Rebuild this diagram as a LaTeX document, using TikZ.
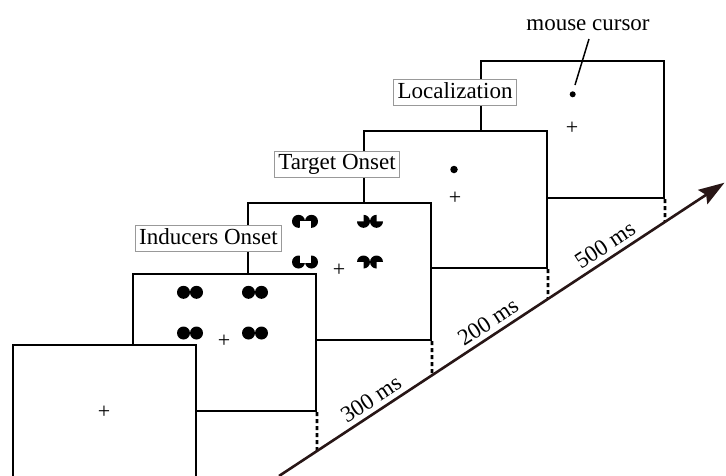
\documentclass[tikz,border=0pt]{standalone}
\usepackage{fontspec}
\setmainfont{Liberation Serif}
\usetikzlibrary{arrows.meta,calc}
\definecolor{arrowcol}{RGB}{40,22,22}
\begin{document}
\begin{tikzpicture}[x=1pt,y=-1pt,
  panel/.style={draw,line width=2pt,fill=white,rectangle,anchor=north west,inner sep=0pt,minimum width=183pt,minimum height=137pt},
  lbl/.style={draw=gray!80,line width=0.8pt,fill=white,font=\fontsize{23}{27}\selectfont,inner xsep=4pt,inner ysep=2.5pt,text height=16pt,text depth=5pt},
  fixcross/.style={font=\fontsize{22}{22}\selectfont,inner sep=0pt},
  dotline/.style={line width=2.6pt,dash pattern=on 4pt off 3pt},
  mslbl/.style={font=\fontsize{23}{27}\selectfont,rotate=33.3,inner sep=0pt},
  cursordot/.style={circle,fill=black,inner sep=0pt},
  disc pair/.pic={\fill (-6.5,0) circle[radius=6.5pt] (6.5,0) circle[radius=6.5pt];},
  tgt ul/.pic={\fill (-6.5,0) circle[radius=6.5pt] (6.5,0) circle[radius=6.5pt];
               \fill[white] (-5.5,-0.5) rectangle (5.5,7.5);},
  tgt ll/.pic={\fill (-6.5,0) circle[radius=6.5pt] (6.5,0) circle[radius=6.5pt];
               \fill[white] (-5.5,-7.5) rectangle (5.5,0.5);},
  tgt ur/.pic={\fill (-6.5,0) circle[radius=6.5pt] (6.5,0) circle[radius=6.5pt];
               \fill[white] (-13.5,-7.5) rectangle (-6.5,0) (6.5,-7.5) rectangle (13.5,0);},
  tgt lr/.pic={\fill (-6.5,0) circle[radius=6.5pt] (6.5,0) circle[radius=6.5pt];
               \fill[white] (-13.5,0) rectangle (-6.5,7.5) (6.5,0) rectangle (13.5,7.5);},
]
\useasboundingbox (0,0) rectangle (726,475);
\begin{scope}
\clip (0,0) rectangle (726,475);

% time arrow coordinates
\coordinate (a0) at (279,476);
\coordinate (a1) at (724.5,182.7);

% panels, back to front
\node[panel] (p5) at (480,60) {};
\node[panel] (p4) at (363,130) {};
\node[panel] (p3) at (247,202) {};
\node[panel] (p2) at (132,273) {};
\node[panel] (p1) at (12,344) {};

% dotted drop lines
\foreach \p in {p2,p3,p4,p5}{
  \coordinate (\p b) at (\p.south east);
  \coordinate (\p t) at (\p.north east);
  \draw[dotline] (\p b) -- (intersection of \p b--\p t and a0--a1);
}

% time arrow
\draw[arrowcol,line width=2.6pt,-{Stealth[length=26pt,width=17pt,inset=4pt]}] (a0) -- (a1);

% fixation crosses
\foreach \p in {p1,p2,p3,p4,p5}{
  \node[fixcross] (\p fix) at ($(\p.north west)+(92,68.7)$) {+};
}

% inducers (panel 2)
\pic at (190,292.3) {disc pair};
\pic at (255,292.3) {disc pair};
\pic at (190,333) {disc pair};
\pic at (255,333) {disc pair};

% targets (panel 3)
\pic at (305,221.3) {tgt ul};
\pic at (370,221.3) {tgt ur};
\pic at (305,262) {tgt ll};
\pic at (370,262) {tgt lr};

% target dot / cursor
\node[cursordot,minimum size=7.5pt] (tdot) at (454,169.5) {};
\node[cursordot,minimum size=6pt] (cdot) at (572.7,94.3) {};

% labels
\node[lbl] (lind) at (208.5,238.5) {Inducers Onset};
\node[lbl] (ltgt) at (337,164) {Target Onset};
\node[lbl] (lloc) at (455,92.5) {Localization};

% mouse cursor annotation
\node[font=\fontsize{23}{27}\selectfont,inner sep=0pt] (mc) at (588,25.5) {mouse cursor};
\coordinate (mcs) at (589,39);
\coordinate (mce) at (575,85);
\draw[line width=1.5pt] (mcs) -- (mce);

% durations
\node[mslbl] (t300) at (371,399) {300 ms};
\node[mslbl] (t200) at (488,322) {200 ms};
\node[mslbl] (t500) at (605,245) {500 ms};
\end{scope}
\end{tikzpicture}
\end{document}
